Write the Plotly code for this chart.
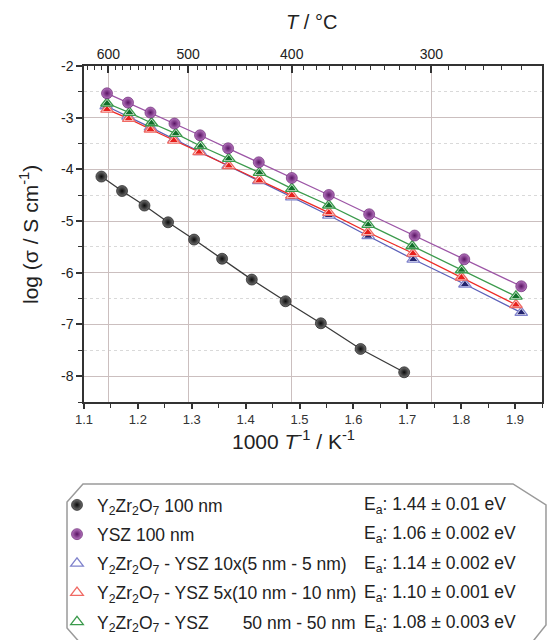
import plotly.graph_objects as go

# ---------------- data ----------------
black_x = [1.1323, 1.1706, 1.2122, 1.2560, 1.3043, 1.3563, 1.4114, 1.4740, 1.5396, 1.6133, 1.6942]
black_y = [-4.139, -4.418, -4.700, -5.023, -5.358, -5.729, -6.132, -6.551, -6.977, -7.474, -7.925]

purple_x = [1.1427, 1.1817, 1.2233, 1.2679, 1.3154, 1.3674, 1.4244, 1.4857, 1.5544, 1.6292, 1.7136, 1.8057, 1.9115]
purple_y = [-2.528, -2.708, -2.901, -3.114, -3.340, -3.592, -3.863, -4.166, -4.495, -4.868, -5.280, -5.739, -6.261]

blue_x = [1.1412, 1.1817, 1.2233, 1.2679, 1.3154, 1.3674, 1.4244, 1.4857, 1.5544, 1.6274, 1.7110, 1.8070, 1.9115]
blue_y = [-2.774, -2.974, -3.188, -3.417, -3.661, -3.928, -4.221, -4.535, -4.888, -5.288, -5.739, -6.222, -6.770]

red_x = [1.1427, 1.1830, 1.2233, 1.2666, 1.3136, 1.3687, 1.4254, 1.4857, 1.5544, 1.6268, 1.7105, 1.8004, 1.9016]
red_y = [-2.838, -3.017, -3.224, -3.437, -3.663, -3.932, -4.208, -4.502, -4.836, -5.217, -5.623, -6.087, -6.619]

green_x = [1.1427, 1.1843, 1.2252, 1.2703, 1.3162, 1.3687, 1.4257, 1.4857, 1.5544, 1.6274, 1.7091, 1.8008, 1.9016]
green_y = [-2.721, -2.901, -3.103, -3.308, -3.547, -3.791, -4.062, -4.371, -4.694, -5.068, -5.482, -5.946, -6.455]

series_names = [
    "Y<sub>2</sub>Zr<sub>2</sub>O<sub>7</sub> 100 nm",
    "YSZ 100 nm",
    "Y<sub>2</sub>Zr<sub>2</sub>O<sub>7</sub> - YSZ 10x(5 nm - 5 nm)",
    "Y<sub>2</sub>Zr<sub>2</sub>O<sub>7</sub> - YSZ 5x(10 nm - 10 nm)",
    "Y<sub>2</sub>Zr<sub>2</sub>O<sub>7</sub> - YSZ\u00a0\u00a0\u00a0\u00a0\u00a0\u00a0 50 nm - 50 nm",
]
ea_labels = [
    "E<sub>a</sub>: 1.44 ± 0.01 eV",
    "E<sub>a</sub>: 1.06 ± 0.002 eV",
    "E<sub>a</sub>: 1.14 ± 0.002 eV",
    "E<sub>a</sub>: 1.10 ± 0.001 eV",
    "E<sub>a</sub>: 1.08 ± 0.003 eV",
]

x_range = [1.1, 1.95]
y_range = [-8.5, -2]
x_ticks = [1.1, 1.2, 1.3, 1.4, 1.5, 1.6, 1.7, 1.8, 1.9]
x_ticklabels = ["1.1", "1.2", "1.3", "1.4", "1.5", "1.6", "1.7", "1.8", "1.9"]
y_ticks = [-8, -7, -6, -5, -4, -3, -2]
y_ticklabels = ["-8", "-7", "-6", "-5", "-4", "-3", "-2"]
top_T_major = [600, 500, 400, 300]
top_T_minor = [630, 620, 610, 590, 580, 570, 560, 550, 540, 530, 520, 510,
               490, 480, 470, 460, 450, 440, 430, 420, 410, 390, 380, 370,
               360, 350, 340, 330, 320, 310, 290, 280, 270, 260, 250]

# ---------------- layout geometry helpers ----------------
W, H = 547, 640
ML, MR, MT, MB = 84, 5, 66, 238
PW, PH = W - ML - MR, H - MT - MB


def px_x(px):
    return (px - ML) / PW


def px_y(py):
    return (H - MB - py) / PH


FONT = "Liberation Sans, Arial, sans-serif"
LEG_FS = 17.5
fig = go.Figure()

# ---- connecting lines (drawn first, not in legend) ----
line_specs = [
    (black_x, black_y, "#3a3a3a"),
    (blue_x, blue_y, "#5b5fb8"),
    (red_x, red_y, "#ee2a24"),
    (green_x, green_y, "#3b9a4c"),
    (purple_x, purple_y, "#9c55a6"),
]
for lx, ly, lc in line_specs:
    fig.add_trace(go.Scatter(x=lx, y=ly, mode="lines", showlegend=False,
                             hoverinfo="skip", line=dict(color=lc, width=1.3)))

# black spheres
fig.add_trace(go.Scatter(
    x=black_x, y=black_y, mode="markers", name=series_names[0],
    legendrank=1, legendgroup="g1",
    marker=dict(symbol="circle", size=11, color="#707070",
                gradient=dict(type="radial", color="#0a0a0a"),
                line=dict(color="#0a0a0a", width=0.6)),
))

# blue triangles
fig.add_trace(go.Scatter(
    x=blue_x, y=blue_y, mode="markers", name=series_names[2],
    legendrank=3, legendgroup="g3",
    marker=dict(symbol="triangle-up", size=11, color="white",
                line=dict(color="#7f82cc", width=1.3)),
))
fig.add_trace(go.Scatter(
    x=blue_x, y=blue_y, mode="markers", showlegend=False, hoverinfo="skip",
    legendgroup="g3",
    marker=dict(symbol="triangle-up", size=7, color="#23236e"),
))

# red triangles
fig.add_trace(go.Scatter(
    x=red_x, y=red_y, mode="markers", name=series_names[3],
    legendrank=4, legendgroup="g4",
    marker=dict(symbol="triangle-up", size=11, color="white",
                line=dict(color="#f06a64", width=1.3)),
))
fig.add_trace(go.Scatter(
    x=red_x, y=red_y, mode="markers", showlegend=False, hoverinfo="skip",
    legendgroup="g4",
    marker=dict(symbol="triangle-up", size=7, color="#e8201c"),
))

# green triangles
fig.add_trace(go.Scatter(
    x=green_x, y=green_y, mode="markers", name=series_names[4],
    legendrank=5, legendgroup="g5",
    marker=dict(symbol="triangle-up", size=11, color="white",
                line=dict(color="#3b9a4c", width=1.3)),
))
fig.add_trace(go.Scatter(
    x=green_x, y=green_y, mode="markers", showlegend=False, hoverinfo="skip",
    legendgroup="g5",
    marker=dict(symbol="triangle-up", size=7, color="#12702a"),
))

# purple spheres
fig.add_trace(go.Scatter(
    x=purple_x, y=purple_y, mode="markers", name=series_names[1],
    legendrank=2, legendgroup="g2",
    marker=dict(symbol="circle", size=11, color="#b777c0",
                gradient=dict(type="radial", color="#5a1464"),
                line=dict(color="#5a1464", width=0.6)),
))

# invisible trace to activate the top (temperature) axis
fig.add_trace(go.Scatter(
    x=purple_x, y=purple_y, xaxis="x2", mode="markers", showlegend=False,
    hoverinfo="skip", marker=dict(opacity=0),
))

top_vals = [1000.0 / (t + 273.15) for t in top_T_major]
top_minor_vals = [1000.0 / (t + 273.15) for t in top_T_minor]

fig.update_layout(
    width=W, height=H,
    margin=dict(l=ML, r=MR, t=MT, b=MB, autoexpand=False),
    paper_bgcolor="white", plot_bgcolor="white",
    font=dict(family=FONT, size=14, color="#222222"),
    xaxis=dict(
        range=x_range, tickmode="array", tickvals=x_ticks, ticktext=x_ticklabels,
        ticks="outside", ticklen=5, tickwidth=1.5, tickcolor="#333333",
        showline=True, linecolor="#333333", linewidth=1.5, mirror=False,
        showgrid=False, zeroline=False,
        tickfont=dict(size=13, color="#333333"),
        minor=dict(dtick=0.05, tick0=1.1, ticks="outside", ticklen=4,
                   tickwidth=1.2, tickcolor="#333333", showgrid=False),
    ),
    xaxis2=dict(
        range=x_range, overlaying="x", side="top", anchor="y",
        tickmode="array", tickvals=top_vals, ticktext=[str(t) for t in top_T_major],
        ticks="inside", ticklen=7, tickwidth=1.5, tickcolor="#333333",
        showline=True, linecolor="#333333", linewidth=1.5,
        showgrid=True, gridcolor="#cbbfbf", gridwidth=1.3,
        zeroline=False, tickfont=dict(size=14, color="#222222"),
        minor=dict(tickmode="array", tickvals=top_minor_vals, ticks="inside",
                   ticklen=4, tickwidth=1.2, tickcolor="#333333", showgrid=False),
    ),
    yaxis=dict(
        range=y_range, tickmode="array", tickvals=y_ticks, ticktext=y_ticklabels,
        ticks="outside", ticklen=6, tickwidth=1.5, tickcolor="#333333",
        showline=True, linecolor="#333333", linewidth=1.5, mirror=True,
        showgrid=True, gridcolor="#cbbfbf", gridwidth=1.3, zeroline=False,
        tickfont=dict(size=14, color="#222222"),
        minor=dict(dtick=0.5, tick0=-8.5, ticks="outside", ticklen=4,
                   tickwidth=1.2, tickcolor="#333333", showgrid=True,
                   gridcolor="#d9d9d9", griddash="dot", gridwidth=1),
    ),
    showlegend=True,
    legend=dict(
        x=px_x(57), y=px_y(487), xanchor="left", yanchor="top",
        bgcolor="rgba(0,0,0,0)", borderwidth=0,
        font=dict(family=FONT, size=LEG_FS, color="#222222"),
        traceorder="grouped", tracegroupgap=3.5, itemwidth=30,
    ),
)

annotations = [
    dict(text="<i>T</i> / °C", x=px_x(311), y=px_y(22), xref="paper", yref="paper",
         xanchor="center", yanchor="middle",
         showarrow=False, font=dict(size=20, family=FONT, color="#222222")),
    dict(text="1000 <i>T</i><sup>-1</sup> / K<sup>-1</sup>", x=px_x(293), y=px_y(440),
         xref="paper", yref="paper", xanchor="center", yanchor="middle", showarrow=False,
         font=dict(size=21, family=FONT, color="#222222")),
    dict(text="log (σ / S cm<sup>-1</sup>)", x=px_x(29), y=px_y(235), xref="paper",
         yref="paper", xanchor="center", yanchor="middle", showarrow=False, textangle=-90,
         font=dict(size=21, family=FONT, color="#222222")),
]
row_y = [505, 534.5, 564, 593.5, 623]
for lbl, ry in zip(ea_labels, row_y):
    annotations.append(dict(text=lbl, x=px_x(362), y=px_y(ry), xref="paper", yref="paper",
                            xanchor="left", yanchor="middle", showarrow=False,
                            font=dict(size=LEG_FS, family=FONT, color="#222222")))
fig.update_layout(annotations=annotations)

# chamfered legend frame
pts = [(83, 484), (513, 484), (546, 505), (546, 625), (530, 645), (82, 645), (67, 628), (67, 502)]
path = "M " + " L ".join(f"{px_x(a):.4f},{px_y(b):.4f}" for a, b in pts) + " Z"
fig.add_shape(type="path", path=path, xref="paper", yref="paper",
              line=dict(color="#9a9a9a", width=1.5), fillcolor="rgba(0,0,0,0)")

fig.write_html("out.html")
